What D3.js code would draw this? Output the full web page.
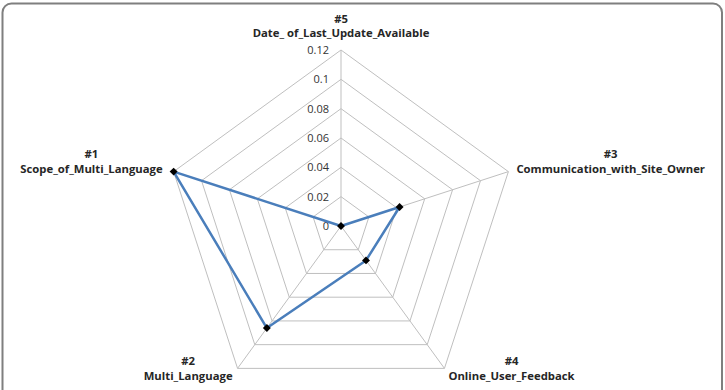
<!DOCTYPE html>
<html>
<head>
<meta charset="utf-8">
<script src="https://cdn.jsdelivr.net/npm/d3@7"></script>
<style>
  body { margin: 0; padding: 0; background: #fff; }
  svg { display: block; }
</style>
</head>
<body>
<div id="chart"></div>
<script>
// axes, clockwise from the top (Excel radar order)
const axisIds = ['#5', '#3', '#4', '#2', '#1'];
const axisNames = ['Date_ of_Last_Update_Available', 'Communication_with_Site_Owner',
  'Online_User_Feedback', 'Multi_Language', 'Scope_of_Multi_Language'];
const values = [0, 0.042, 0.029, 0.086, 0.12];
const ticks = [0, 0.02, 0.04, 0.06, 0.08, 0.1, 0.12];
const tickLabels = ['0', '0.02', '0.04', '0.06', '0.08', '0.1', '0.12'];

const width = 725;
const height = 390;
const cx = 341;
const cy = 226;

const svg = d3.select('#chart')
  .append('svg')
  .attr('width', width)
  .attr('height', height);

// rounded frame, bottom edge runs off the picture
svg.append('rect')
  .attr('x', 2.5)
  .attr('y', 3.5)
  .attr('width', 719.5)
  .attr('height', 420)
  .attr('rx', 9)
  .attr('fill', 'none')
  .attr('stroke', '#7f7f7f')
  .attr('stroke-width', 2);

const r = d3.scaleLinear().domain([0, 0.12]).range([0, 176]);
const angle = d3.scalePoint().domain(axisNames).range([0, 2 * Math.PI * (4 / 5)]);

const g = svg.append('g').attr('transform', `translate(${cx},${cy})`);

const pt = (name, v) => {
  const a = angle(name);
  return [Math.sin(a) * r(v), -Math.cos(a) * r(v)];
};

// grid rings
g.append('g')
  .selectAll('path')
  .data(ticks.slice(1))
  .enter().append('path')
    .attr('d', t => 'M' + axisNames.map(n => pt(n, t).join(',')).join('L') + 'Z')
    .attr('fill', 'none')
    .attr('stroke', '#bfbfbf')
    .attr('stroke-width', 1);

// spokes
g.append('g')
  .selectAll('line')
  .data(axisNames)
  .enter().append('line')
    .attr('x1', 0)
    .attr('y1', 0)
    .attr('x2', n => pt(n, 0.12)[0])
    .attr('y2', n => pt(n, 0.12)[1])
    .attr('stroke', '#bfbfbf')
    .attr('stroke-width', 1);

// tick labels on the top spoke
g.append('g')
  .selectAll('text')
  .data(ticks)
  .enter().append('text')
    .attr('x', -12)
    .attr('y', t => -r(t))
    .attr('dy', '0.35em')
    .attr('text-anchor', 'end')
    .attr('font-family', 'Open Sans, sans-serif')
    .attr('font-size', 11)
    .attr('fill', '#333')
    .text((t, i) => tickLabels[i]);

// series
const line = d3.lineRadial()
  .angle((d, i) => angle(axisNames[i]))
  .radius(d => r(d))
  .curve(d3.curveLinearClosed);

g.append('path')
  .datum(values)
  .attr('d', line)
  .attr('fill', 'none')
  .attr('stroke', '#4a7ebb')
  .attr('stroke-width', 2.5)
  .attr('stroke-linejoin', 'round');

g.append('g')
  .selectAll('path')
  .data(values)
  .enter().append('path')
    .attr('d', d3.symbol().type(d3.symbolDiamond2).size(40))
    .attr('transform', (d, i) => `translate(${pt(axisNames[i], d).join(',')})`)
    .attr('fill', '#000');

// category labels
const labels = g.append('g')
  .attr('font-family', 'Open Sans, sans-serif')
  .attr('font-weight', 'bold')
  .attr('font-size', 11.3)
  .attr('fill', '#262626');

axisNames.forEach((name, i) => {
  const [vx, vy] = pt(name, 0.12);
  const s = Math.sin(angle(name));
  const lab = labels.append('text').attr('text-anchor', 'middle');
  const t1 = lab.append('tspan').text(axisIds[i]);
  const t2 = lab.append('tspan').text(name);
  const w = Math.max(t1.node().getComputedTextLength(), t2.node().getComputedTextLength());
  let x = vx;
  let y = vy;
  let gap = 7.5;
  if (Math.abs(s) < 0.1) {
    y = vy - 24;
    gap = 7;
  } else if (vy < 0) {
    x = s > 0 ? vx + 8 + w / 2 : vx - 11 - w / 2;
    y = vy - 10;
  } else {
    x = s > 0 ? vx + 4 + w / 2 : vx - 5 - w / 2;
  }
  t1.attr('x', x).attr('y', y - gap).attr('dy', '0.35em');
  t2.attr('x', x).attr('y', y + gap).attr('dy', '0.35em');
});
</script>
</body>
</html>
